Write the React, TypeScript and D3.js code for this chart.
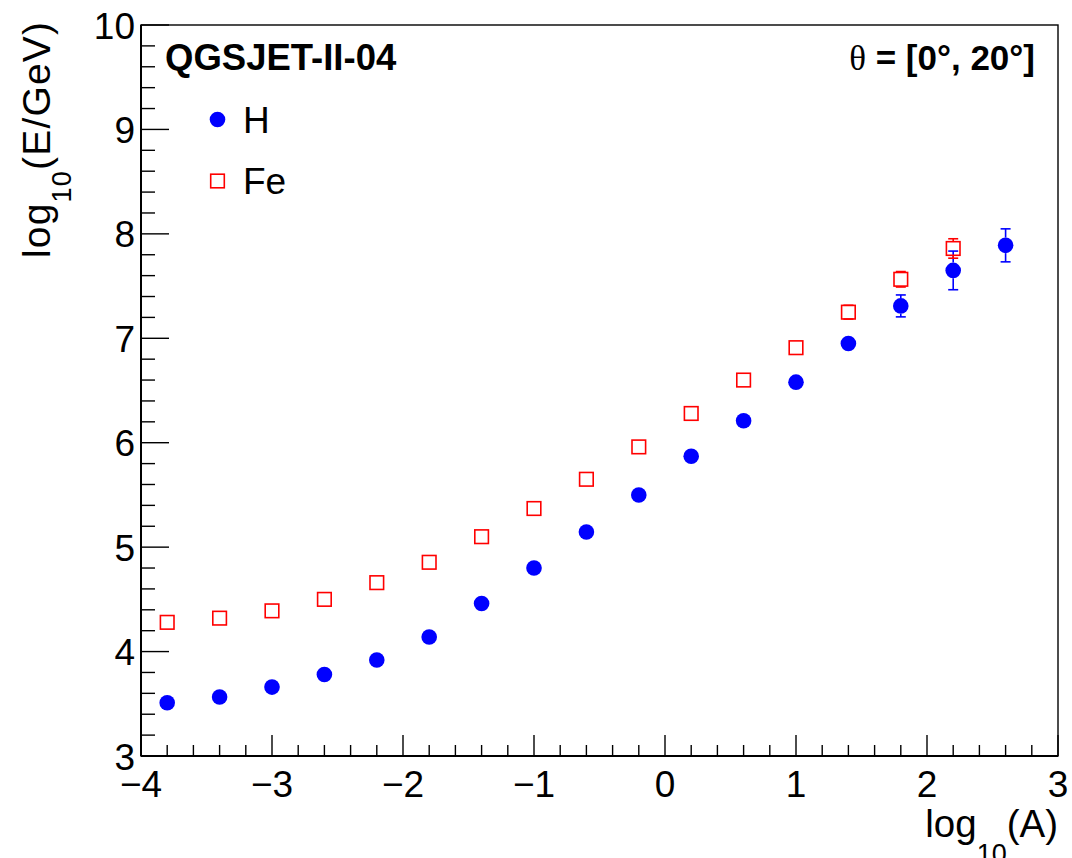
import React from "react";
import * as d3 from "d3";

// log10(A) positions of the simulated points
const xVals = [-3.8, -3.4, -3.0, -2.6, -2.2, -1.8, -1.4, -1.0, -0.6, -0.2, 0.2, 0.6, 1.0, 1.4, 1.8, 2.2, 2.6];
// proton (H) reconstructed log10(E/GeV)
const hVals = [3.51, 3.565, 3.66, 3.78, 3.92, 4.14, 4.46, 4.8, 5.145, 5.5, 5.87, 6.21, 6.58, 6.95, 7.31, 7.65, 7.89];
const hErr = [0, 0, 0, 0, 0, 0, 0, 0, 0, 0, 0, 0, 0, 0.04, 0.105, 0.185, 0.158];
// iron (Fe) reconstructed log10(E/GeV)
const feVals = [4.28, 4.32, 4.39, 4.5, 4.66, 4.855, 5.1, 5.37, 5.65, 5.96, 6.28, 6.6, 6.91, 7.25, 7.565, 7.86];
const feErr = [0, 0, 0, 0, 0, 0, 0, 0, 0, 0, 0, 0, 0, 0.066, 0.074, 0.093];

const xMajor = [-4, -3, -2, -1, 0, 1, 2, 3];
const yMajor = [3, 4, 5, 6, 7, 8, 9, 10];
const xMinorStep = 0.2;
const yMinorStep = 0.2;

const W = 1072;
const H = 858;
const frame = { left: 141, right: 1058, top: 25, bottom: 756 };

const FONT = "'Liberation Sans', Arial, Helvetica, sans-serif";
const BLUE = "#0000ff";
const RED = "#ff0000";

const fmt = (v: number) => (v < 0 ? "\u2212" + Math.abs(v) : String(v));

export default function App() {
  const x = d3.scaleLinear().domain([-4, 3]).range([frame.left, frame.right]);
  const y = d3.scaleLinear().domain([3, 10]).range([frame.bottom, frame.top]);

  const xMinor = d3.range(-4, 3 + 1e-9, xMinorStep).filter((v) => Math.abs(v - Math.round(v)) > 1e-6);
  const yMinor = d3.range(3, 10 + 1e-9, yMinorStep).filter((v) => Math.abs(v - Math.round(v)) > 1e-6);

  const R = 7.8; // circle marker radius
  const S = 13.6; // square marker side
  const cap = 5;

  const errorBars = (
    vals: number[],
    errs: number[],
    color: string,
    half: number,
    key: string
  ) =>
    vals.map((v, i) => {
      const e = errs[i];
      if (!e) return null;
      const cx = x(xVals[i]);
      const cy = y(v);
      const top = y(v + e);
      const bot = y(v - e);
      return (
        <g key={key + i} stroke={color} strokeWidth={1.6}>
          {cy - half > top && <line x1={cx} x2={cx} y1={top} y2={cy - half} />}
          {bot > cy + half && <line x1={cx} x2={cx} y1={cy + half} y2={bot} />}
          <line x1={cx - cap} x2={cx + cap} y1={top} y2={top} />
          <line x1={cx - cap} x2={cx + cap} y1={bot} y2={bot} />
        </g>
      );
    });

  return (
    <svg
      width={W}
      height={H}
      style={{ position: "absolute", left: 0, top: 0, display: "block", background: "#fff" }}
    >
      {/* frame */}
      <rect
        x={frame.left}
        y={frame.top}
        width={frame.right - frame.left}
        height={frame.bottom - frame.top}
        fill="none"
        stroke="#000"
        strokeWidth={1.4}
      />
      <line x1={frame.left} x2={frame.left} y1={frame.top} y2={frame.bottom} stroke="#000" strokeWidth={2} />
      <line x1={frame.left} x2={frame.right} y1={frame.bottom} y2={frame.bottom} stroke="#000" strokeWidth={2} />

      {/* ticks */}
      <g stroke="#000" strokeWidth={1.4}>
        {xMajor.map((v) => (
          <line key={"xM" + v} x1={x(v)} x2={x(v)} y1={frame.bottom} y2={frame.bottom - 21} />
        ))}
        {xMinor.map((v) => (
          <line key={"xm" + v} x1={x(v)} x2={x(v)} y1={frame.bottom} y2={frame.bottom - 11} />
        ))}
        {yMajor.map((v) => (
          <line key={"yM" + v} x1={frame.left} x2={frame.left + 28} y1={y(v)} y2={y(v)} />
        ))}
        {yMinor.map((v) => (
          <line key={"ym" + v} x1={frame.left} x2={frame.left + 14} y1={y(v)} y2={y(v)} />
        ))}
      </g>

      {/* tick labels */}
      <g fontFamily={FONT} fontSize={37} fill="#000">
        {xMajor.map((v) => (
          <text key={"xl" + v} x={x(v)} y={frame.bottom + 40.5} textAnchor="middle">
            {fmt(v)}
          </text>
        ))}
        {yMajor.map((v) => (
          <text key={"yl" + v} x={frame.left - 6} y={y(v) + 13.5} textAnchor="end">
            {fmt(v)}
          </text>
        ))}
      </g>

      {/* axis titles */}
      <text x={frame.right} y={836.5} textAnchor="end" fontFamily={FONT} fontSize={38.5} fill="#000">
        log
        <tspan fontSize={27} dy={26}>10</tspan>
        <tspan dy={-26}>(A)</tspan>
      </text>
      <text
        transform="translate(49.5,22) rotate(-90)"
        textAnchor="end"
        fontFamily={FONT}
        fontSize={39}
        fill="#000"
        textLength={236}
        lengthAdjust="spacing"
      >
        log
        <tspan fontSize={27} dy={21}>10</tspan>
        <tspan dy={-21}>(E/GeV)</tspan>
      </text>

      {/* header labels */}
      <text x={165} y={70} fontFamily={FONT} fontWeight="bold" fontSize={36.5} fill="#000">
        QGSJET-II-04
      </text>
      <text x={1035} y={70} textAnchor="end" fontFamily={FONT} fontWeight="bold" fontSize={35} fill="#000">
        <tspan fontFamily="'Liberation Serif', 'DejaVu Serif', serif" fontWeight="normal">θ</tspan>
        {" = [0°, 20°]"}
      </text>

      {/* legend */}
      <circle cx={217.5} cy={119.5} r={R} fill={BLUE} />
      <text x={243} y={132.5} fontFamily={FONT} fontSize={37} fill="#000">H</text>
      <rect x={217.5 - S / 2} y={181 - S / 2} width={S} height={S} fill="none" stroke={RED} strokeWidth={1.6} />
      <text x={243} y={194} fontFamily={FONT} fontSize={37} fill="#000">Fe</text>

      {/* error bars */}
      {errorBars(hVals, hErr, BLUE, R, "he")}
      {errorBars(feVals, feErr, RED, S / 2, "fe")}

      {/* Fe markers */}
      {feVals.map((v, i) => (
        <rect
          key={"fe" + i}
          x={x(xVals[i]) - S / 2}
          y={y(v) - S / 2}
          width={S}
          height={S}
          fill="none"
          stroke={RED}
          strokeWidth={1.6}
        />
      ))}
      {/* H markers */}
      {hVals.map((v, i) => (
        <circle key={"h" + i} cx={x(xVals[i])} cy={y(v)} r={R} fill={BLUE} />
      ))}
    </svg>
  );
}
